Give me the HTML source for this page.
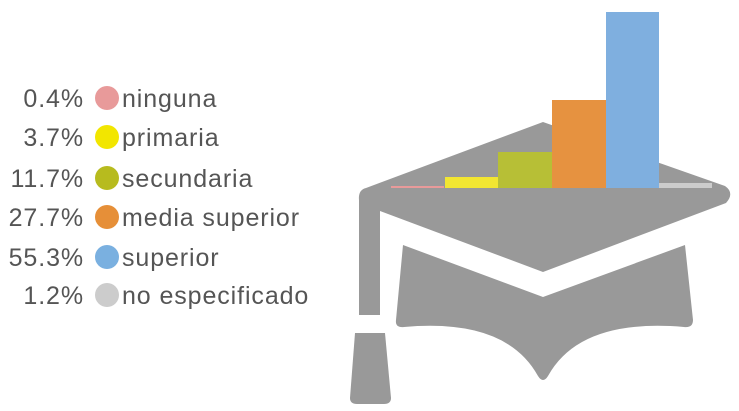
<!DOCTYPE html>
<html><head><meta charset="utf-8"><style>html,body{margin:0;padding:0;background:#fff;width:739px;height:411px;overflow:hidden}</style></head><body>
<svg width="739" height="411" viewBox="0 0 739 411" xmlns="http://www.w3.org/2000/svg">
<g fill="#999">
<path d="M543 122 L725 186 Q735 193 726 203 L543 272 L380 211 L380 315 L359 315 L359 200 Q358 190 366 188 Z"/>
<path d="M403 245 L543 297 L685 245 L693 320 Q693 328 684 327 Q580 318 548 376 Q543 384 538 376 Q506 318 404 327 Q395 328 396 320 Z"/>
<path d="M355 333 L385 333 L391 398 Q391 404 384 404 L357 404 Q350 404 350 398 Z"/>
</g>
<rect x="391" y="186" width="53" height="2" fill="#e89a9a"/>
<rect x="445" y="177" width="53" height="11" fill="#f2e632"/>
<rect x="498" y="152" width="54" height="36" fill="#b7bf36"/>
<rect x="552" y="100" width="54" height="88" fill="#e69240"/>
<rect x="606" y="12" width="53" height="176" fill="#7fafdf"/>
<rect x="659" y="183" width="53" height="5" fill="#cccccc"/>
<g font-family="Liberation Sans, sans-serif" font-size="25" fill="#555" letter-spacing="0.9">
<g text-anchor="end">
<text x="84" y="107">0.4%</text>
<text x="84" y="146">3.7%</text>
<text x="84" y="187">11.7%</text>
<text x="84" y="226">27.7%</text>
<text x="84" y="266">55.3%</text>
<text x="84" y="304">1.2%</text>
</g>
<text x="122" y="107">ninguna</text>
<text x="122" y="146">primaria</text>
<text x="122" y="187">secundaria</text>
<text x="122" y="226">media superior</text>
<text x="122" y="266">superior</text>
<text x="122" y="304">no especificado</text>
</g>
<circle cx="107" cy="98" r="12" fill="#e89a9a"/>
<circle cx="107" cy="137" r="12" fill="#f2e600"/>
<circle cx="107" cy="178" r="12" fill="#b7bb1e"/>
<circle cx="107" cy="217" r="12" fill="#e68f38"/>
<circle cx="107" cy="257" r="12" fill="#7ab0e0"/>
<circle cx="107" cy="295" r="12" fill="#cccccc"/>
</svg>
</body></html>
